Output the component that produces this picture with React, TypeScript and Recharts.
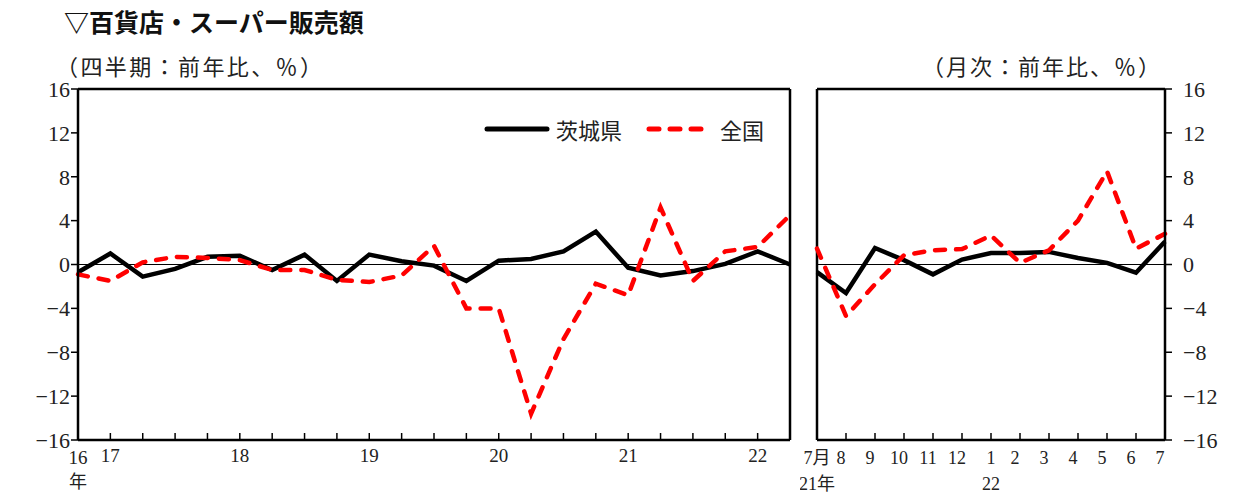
import React from 'react';
import {
  LineChart,
  Line,
  XAxis,
  YAxis,
  ReferenceLine
} from 'recharts';

// quarterly (16Q4 .. 22Q2)
const quarters = [
  '16Q4', '17Q1', '17Q2', '17Q3', '17Q4', '18Q1', '18Q2', '18Q3', '18Q4',
  '19Q1', '19Q2', '19Q3', '19Q4', '20Q1', '20Q2', '20Q3', '20Q4',
  '21Q1', '21Q2', '21Q3', '21Q4', '22Q1', '22Q2'
];
const quarterTickLabels = [
  '16', '17', '', '', '', '18', '', '', '', '19', '', '', '', '20', '', '', '',
  '21', '', '', '', '22', ''
];
const ibarakiQ = [
  -0.7, 1.0, -1.1, -0.4, 0.7, 0.8, -0.5, 0.9, -1.5, 0.9, 0.3, -0.1,
  -1.5, 0.35, 0.5, 1.2, 3.0, -0.3, -1.0, -0.6, 0.05, 1.2, 0.0
];
const nationalQ = [
  -0.9, -1.5, 0.2, 0.7, 0.6, 0.4, -0.5, -0.5, -1.4, -1.6, -1.0, 1.7,
  -4.0, -4.0, -13.6, -6.8, -1.75, -2.8, 5.2, -1.5, 1.2, 1.6, 4.5
];

// monthly (21/7 .. 22/7)
const months = [
  '2021-07', '2021-08', '2021-09', '2021-10', '2021-11', '2021-12',
  '2022-01', '2022-02', '2022-03', '2022-04', '2022-05', '2022-06', '2022-07'
];
const monthTickLabels = ['7月', '8', '9', '10', '11', '12', '1', '2', '3', '4', '5', '6', '7'];
const monthYearLabels = ['21年', '', '', '', '', '', '22', '', '', '', '', '', ''];
const ibarakiM = [-0.7, -2.6, 1.5, 0.4, -0.9, 0.45, 1.05, 1.05, 1.15, 0.6, 0.15, -0.75, 2.1];
const nationalM = [1.45, -4.7, -1.8, 0.85, 1.3, 1.4, 2.65, 0.15, 1.3, 4.0, 8.5, 1.45, 2.8];

const yTicks = [-16, -12, -8, -4, 0, 4, 8, 12, 16];

const quarterData = quarters.map((q, i) => ({ q, ibaraki: ibarakiQ[i], national: nationalQ[i] }));
const monthData = months.map((m, i) => ({ m, ibaraki: ibarakiM[i], national: nationalM[i] }));

const FONT = "'Liberation Serif', 'Noto Sans CJK JP', serif";
const TEXT = '#222';
const FRAME = { stroke: '#000', strokeWidth: 2.5 };

const fmt = (v: number) => String(v).replace('-', '−');

function QuarterTick(props: any) {
  const { x, y, payload } = props;
  const i = props.index ?? payload.index;
  const label = quarterTickLabels[i];
  return (
    <g>
      <line x1={x} x2={x} y1={y} y2={y - 7} stroke="#000" strokeWidth={1.5} />
      {label && (
        <text x={x} y={y + (i === 0 ? 24 : 22)} textAnchor="middle" fontSize={19} fontFamily={FONT} fill={TEXT}>
          {label}
        </text>
      )}
      {i === 0 && (
        <text x={x} y={y + 48} textAnchor="middle" fontSize={18} fontFamily={FONT} fill={TEXT}>
          年
        </text>
      )}
    </g>
  );
}

function MonthTick(props: any) {
  const { x, y, payload } = props;
  const i = props.index ?? payload.index;
  const dx = i === 0 || i === 6 ? 0 : -5;
  return (
    <g>
      <line x1={x} x2={x} y1={y} y2={y - 7} stroke="#000" strokeWidth={1.5} />
      <text x={x + dx} y={y + 24} textAnchor="middle" fontSize={18} fontFamily={FONT} fill={TEXT}>
        {monthTickLabels[i]}
      </text>
      {monthYearLabels[i] && (
        <text x={x} y={y + 50} textAnchor="middle" fontSize={18} fontFamily={FONT} fill={TEXT}>
          {monthYearLabels[i]}
        </text>
      )}
    </g>
  );
}

function LegendBox() {
  return (
    <div style={{ display: 'flex', alignItems: 'center', fontFamily: FONT, fontSize: 22, color: TEXT }}>
      <svg width={66} height={10} style={{ marginRight: 6 }}>
        <line x1={3} x2={63} y1={5} y2={5} stroke="#000" strokeWidth={5} strokeLinecap="round" />
      </svg>
      <span style={{ marginRight: 24 }}>茨城県</span>
      <svg width={64} height={10} style={{ marginRight: 10 }}>
        <line x1={3} x2={61} y1={5} y2={5} stroke="#ff0000" strokeWidth={5} strokeLinecap="round" strokeDasharray="10 11" />
      </svg>
      <span>全国</span>
    </div>
  );
}

export default function App() {
  return (
    <div style={{ position: 'relative', width: 1234, height: 495, background: '#fff', overflow: 'hidden' }}>
      <style>{`body{margin:0}`}</style>
      <div
        style={{
          position: 'absolute', left: 64, top: 3, fontFamily: "'Noto Sans CJK JP', sans-serif",
          fontWeight: 700, fontSize: 25, color: '#111', whiteSpace: 'nowrap'
        }}
      >
        ▽百貨店・スーパー販売額
      </div>
      <div style={{ position: 'absolute', left: 56, top: 49, fontFamily: FONT, fontSize: 22, letterSpacing: 2.4, color: TEXT, whiteSpace: 'nowrap' }}>
        （四半期：前年比、％）
      </div>
      <div style={{ position: 'absolute', left: 922, top: 49, fontFamily: FONT, fontSize: 22, letterSpacing: 2, color: TEXT, whiteSpace: 'nowrap' }}>
        （月次：前年比、％）
      </div>

      <div style={{ position: 'absolute', left: 0, top: 0 }}>
        <LineChart
          width={800}
          height={495}
          data={quarterData}
          margin={{ top: 89, right: 10, bottom: 25, left: 0 }}
          style={{ overflow: 'visible' }}
        >
          <XAxis
            dataKey="q"
            interval={0}
            height={30}
            axisLine={FRAME}
            tickLine={false}
            tickSize={0}
            tickMargin={0}
            tick={<QuarterTick />}
          />
          <YAxis
            domain={[-16, 16]}
            ticks={yTicks}
            width={78}
            axisLine={FRAME}
            tickSize={7}
            tickMargin={1}
            tickLine={{ stroke: '#000', strokeWidth: 1.5 }}
            tickFormatter={fmt}
            tick={{ fontSize: 22, fontFamily: FONT, fill: TEXT }}
          />
          <ReferenceLine y={16} stroke="#000" strokeWidth={2.5} />
          <ReferenceLine x={quarters[quarters.length - 1]} stroke="#000" strokeWidth={2.5} />
          <ReferenceLine y={0} stroke="#000" strokeWidth={1} />
          <Line
            dataKey="ibaraki"
            name="茨城県"
            stroke="#000"
            strokeWidth={4.5}
            dot={false}
            isAnimationActive={false}
          />
          <Line
            dataKey="national"
            name="全国"
            stroke="#ff0000"
            strokeWidth={4.5}
            strokeDasharray="10 11"
            strokeLinecap="round"
            dot={false}
            isAnimationActive={false}
          />
        </LineChart>
      </div>
      <div style={{ position: 'absolute', left: 484, top: 113 }}>
        <LegendBox />
      </div>

      <div style={{ position: 'absolute', left: 800, top: 0 }}>
        <LineChart
          width={434}
          height={495}
          data={monthData}
          margin={{ top: 89, right: 0, bottom: 25, left: 17 }}
          style={{ overflow: 'visible' }}
        >
          <XAxis
            dataKey="m"
            interval={0}
            height={30}
            axisLine={FRAME}
            tickLine={false}
            tickSize={0}
            tickMargin={0}
            tick={<MonthTick />}
          />
          <YAxis
            orientation="right"
            domain={[-16, 16]}
            ticks={yTicks}
            width={69}
            axisLine={FRAME}
            tickSize={7}
            tickMargin={11}
            tickLine={{ stroke: '#000', strokeWidth: 1.5 }}
            tickFormatter={fmt}
            tick={{ fontSize: 22, fontFamily: FONT, fill: TEXT, textAnchor: 'start' }}
          />
          <ReferenceLine y={16} stroke="#000" strokeWidth={2.5} />
          <ReferenceLine x={months[0]} stroke="#000" strokeWidth={2.5} />
          <ReferenceLine y={0} stroke="#000" strokeWidth={1} />
          <Line
            dataKey="ibaraki"
            stroke="#000"
            strokeWidth={4.5}
            dot={false}
            isAnimationActive={false}
          />
          <Line
            dataKey="national"
            stroke="#ff0000"
            strokeWidth={4.5}
            strokeDasharray="10 11"
            strokeLinecap="round"
            dot={false}
            isAnimationActive={false}
          />
        </LineChart>
      </div>
    </div>
  );
}
